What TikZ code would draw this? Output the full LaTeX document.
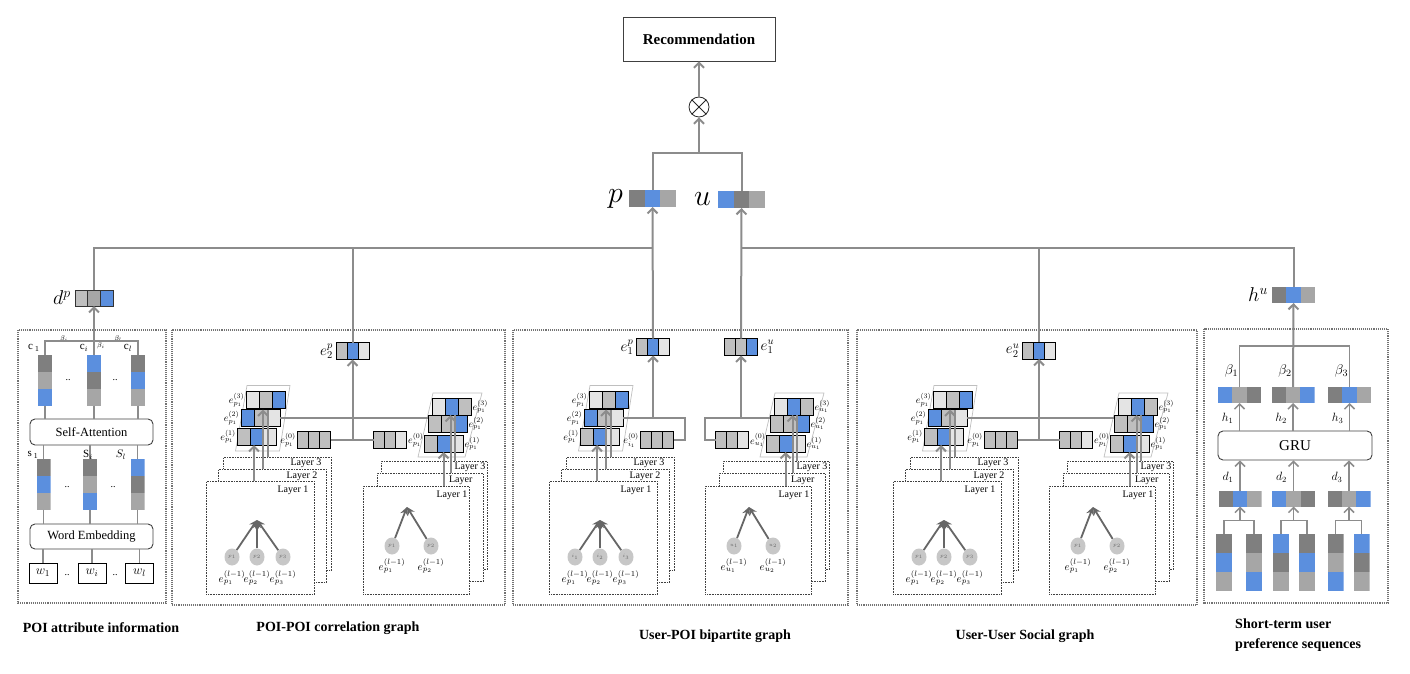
\documentclass[tikz,border=0pt]{standalone}
\usepackage{fix-cm}
\usepackage{fontspec}
\setmainfont{Liberation Serif}
\usetikzlibrary{arrows.meta,calc,positioning,shapes.geometric}

\definecolor{blu}{HTML}{5B8FDE}
\definecolor{dg}{HTML}{7F7F7F}
\definecolor{mg}{HTML}{A6A6A6}
\definecolor{lg}{HTML}{BFBFBF}
\definecolor{vl}{HTML}{E4E4E4}
\definecolor{wire}{HTML}{8C8C8C}

\newcommand{\pbb}{path picture bounding box}

\tikzset{>/.tip={Straight Barb[length=5pt,width=10pt]},
  conn/.style={draw=wire, line width=2pt},
  wire1/.style={draw=wire, line width=1.5pt},
  treearr/.style={draw=black!60, line width=1.8pt, -{Stealth[length=8pt,width=8pt]}},
  panel/.style={draw=black!55, line width=1.1pt, densely dotted},
  layerbox/.style={draw=black!75, line width=0.6pt, densely dotted, fill=white, minimum width=108pt, minimum height=113pt, inner sep=0pt},
  layerR/.style={layerbox, minimum width=106pt, minimum height=108pt},
  laytext/.style={font=\fontsize{10}{10}\selectfont, inner sep=1pt, anchor=north east},
  poi/.style={ellipse, fill=black!22, text=black!60, minimum width=15pt, minimum height=17pt, inner sep=0pt, font=\fontsize{5}{5}\selectfont},
  skewline/.style={draw=black!25, line width=0.7pt},
  rbox/.style={draw=black!75, line width=0.9pt, rounded corners=5pt, inner sep=0pt},
  wbox/.style={draw=black, line width=0.8pt, minimum width=28pt, minimum height=20pt, inner sep=0pt, font=\fontsize{13}{13}\selectfont},
  % a vector of three cells, side by side
  cells/.style n args={4}{inner sep=0pt, outer sep=0pt, path picture={
    \fill[#1] (\pbb.south west) rectangle ($(\pbb.north west)!1/3!(\pbb.north east)$);
    \fill[#2] ($(\pbb.south west)!1/3!(\pbb.south east)$) rectangle ($(\pbb.north west)!2/3!(\pbb.north east)$);
    \fill[#3] ($(\pbb.south west)!2/3!(\pbb.south east)$) rectangle (\pbb.north east);
    \draw[#4] ($(\pbb.south west)!1/3!(\pbb.south east)$) -- ($(\pbb.north west)!1/3!(\pbb.north east)$)
      ($(\pbb.south west)!2/3!(\pbb.south east)$) -- ($(\pbb.north west)!2/3!(\pbb.north east)$);}},
  % a vector of three cells, one above the other
  vcells/.style n args={3}{inner sep=0pt, outer sep=0pt, path picture={
    \fill[#1] (\pbb.north west) rectangle ($(\pbb.north east)!1/3!(\pbb.south east)$);
    \fill[#2] ($(\pbb.north west)!1/3!(\pbb.south west)$) rectangle ($(\pbb.north east)!2/3!(\pbb.south east)$);
    \fill[#3] ($(\pbb.north west)!2/3!(\pbb.south west)$) rectangle (\pbb.south east);}},
  gvec/.style n args={3}{cells={#1}{#2}{#3}{black,line width=0.8pt}, draw=black, line width=0.8pt, minimum width=39pt, minimum height=17pt},
  ovec/.style n args={3}{cells={#1}{#2}{#3}{black,line width=0.8pt}, draw=black, line width=0.8pt, minimum width=33pt, minimum height=17pt},
  bvec/.style n args={3}{cells={#1}{#2}{#3}{draw=none}, minimum width=47pt, minimum height=17pt},
  svec/.style n args={3}{cells={#1}{#2}{#3}{draw=none}, minimum width=43pt, minimum height=16pt},
  cvec/.style n args={3}{vcells={#1}{#2}{#3}, minimum width=14pt, minimum height=51pt},
  colvec/.style n args={3}{vcells={#1}{#2}{#3}, minimum width=16pt, minimum height=57pt},
  sml/.style={font=\fontsize{10}{10}\selectfont, inner sep=0.5pt},
  elbl/.style={font=\fontsize{11}{11}\selectfont, inner sep=0pt},
  outlbl/.style={font=\fontsize{15}{15}\selectfont, inner sep=1pt},
  biglbl/.style={font=\fontsize{20}{20}\selectfont, inner sep=1pt},
  stlbl/.style={font=\fontsize{12}{12}\selectfont, inner sep=0pt},
  clbl/.style={font=\fontsize{11}{11}\selectfont, inner sep=0pt},
  blbl/.style={font=\fontsize{7}{7}\selectfont, inner sep=0pt},
  dots/.style={font=\fontsize{10}{10}\selectfont, inner sep=0pt},
  title/.style={font=\bfseries\fontsize{14}{20}\selectfont, inner sep=0pt}}

% left half of a graph panel: layers, tree, embedding stack
\newcommand{\graphL}[5]{%
  \begin{scope}[shift={(#2)}]
    \node[layerbox, anchor=north west] (#1L3) at (17,-24) {};
    \node[laytext] at ([xshift=-9pt,yshift=-1pt]#1L3.north east) {Layer 3};
    \node[layerbox, anchor=north west] (#1L2) at (12,-12) {};
    \node[laytext] at ([xshift=-8pt,yshift=-2pt]#1L2.north east) {Layer 2};
    \node[layerbox, anchor=north west] (#1L1) at (0,0) {};
    \node[laytext] at ([xshift=-5pt,yshift=-4pt]#1L1.north east) {Layer 1};
    \coordinate (#1apex) at (51,39);
    \foreach \i/\x in {1/26,2/51,3/77} {
      \node[poi] (#1n\i) at (\x,76) {$#3_{\i}$};
      \node[elbl] at (\x,97) {$e^{(l-1)}_{#4_{\i}}$};
      \draw[treearr] (#1n\i) -- (#1apex);
    }
    \draw[skewline] (29.5,-30) -- (73.5,-30) -- (84,-95.5) -- (41,-95.5) -- cycle;
    \node[gvec={lg}{blu}{vl}] (#1e1) at (51,-44.5) {};
    \node[gvec={blu}{lg}{vl}] (#1e2) at (54.5,-63) {};
    \node[gvec={vl}{lg}{blu}] (#1e3) at (59.5,-81) {};
    \foreach \k in {1,2,3} \node[sml, left=1pt of #1e\k] {$e^{(\k)}_{#4_1}$};
    \node[ovec={lg}{lg}{lg}] (#1e0) at (108,-41) {};
    \node[sml, left=1pt of #1e0] {$e^{(0)}_{#5_1}$};
    \draw[conn,->] ([xshift=-3pt]#1e1.south |- #1L1.north) -- ([xshift=-3pt]#1e1.south);
    \draw[conn,->] ([xshift=6pt]#1e1.south |- #1L2.north) -- ([xshift=6pt]#1e1.south |- #1e2.north);
    \draw[conn] ([xshift=11pt]#1e1.south |- #1L3.north) -- ([xshift=11pt]#1e1.south |- #1e2.north);
  \end{scope}}

% right half of a graph panel
\newcommand{\graphR}[5]{%
  \begin{scope}[shift={(#2)}]
    \node[layerR, anchor=north west] (#1L3) at (18,-25) {};
    \node[laytext] at ([xshift=-1pt,yshift=-1pt]#1L3.north east) {Layer 3};
    \node[layerR, anchor=north west] (#1L2) at (14,-13) {};
    \node[laytext] at ([xshift=-10pt,yshift=-2pt]#1L2.north east) {Layer};
    \node[layerR, anchor=north west] (#1L1) at (0,0) {};
    \node[laytext] at ([xshift=-1pt,yshift=-4pt]#1L1.north east) {Layer 1};
    \coordinate (#1apex) at (44,21);
    \foreach \i/\x in {1/29,2/68} {
      \node[poi] (#1n\i) at (\x,60) {$#3_{\i}$};
      \node[elbl] at (\x,80) {$e^{(l-1)}_{#4_{\i}}$};
      \draw[treearr] (#1n\i) -- (#1apex);
    }
    \draw[skewline] (55,-29) -- (102,-29) -- (119,-93) -- (70,-93) -- cycle;
    \node[gvec={lg}{blu}{vl}] (#1e1) at (80.5,-42.5) {};
    \node[gvec={lg}{lg}{blu}] (#1e2) at (84.5,-62.5) {};
    \node[gvec={vl}{blu}{lg}] (#1e3) at (88.5,-79.5) {};
    \foreach \k in {1,2,3} \node[sml, right=1pt of #1e\k] {$e^{(\k)}_{#4_1}$};
    \node[ovec={lg}{lg}{vl}] (#1e0) at (27,-46) {};
    \node[sml, right=1pt of #1e0] {$e^{(0)}_{#5_1}$};
    \draw[conn,->] (#1e1.south |- #1L1.north) -- (#1e1.south);
    \draw[conn,->] ([xshift=7pt]#1e1.south |- #1L2.north) -- ([xshift=7pt]#1e1.south |- #1e2.north);
    \draw[conn] ([xshift=11pt]#1e1.south |- #1L3.north) -- ([xshift=11pt]#1e1.south |- #1e2.north);
  \end{scope}}

\begin{document}
\begin{tikzpicture}[x=1pt,y=-1pt]
\useasboundingbox (0,0) rectangle (1410,674);

% recommendation
\node[draw=black!75, line width=0.8pt, minimum width=152pt, minimum height=44pt, font=\bfseries\fontsize{15}{15}\selectfont] (rec) at (699,39) {Recommendation};
\node[draw=black!85, line width=0.8pt, circle, minimum size=20pt, inner sep=0pt] (ot) at (699,107) {};
\draw[black!85, line width=0.8pt] (ot.north west) -- (ot.south east) (ot.north east) -- (ot.south west);
\node[bvec={dg}{blu}{mg}] (p) at (652.5,198.5) {};
\node[bvec={blu}{dg}{mg}] (u) at (741.5,199.5) {};
\node[left=6pt of p, font=\fontsize{30}{30}\selectfont, inner sep=0pt] {$p$};
\node[left=7pt of u, font=\fontsize{30}{30}\selectfont, inner sep=0pt] {$u$};
\coordinate (top) at (699,153);
\draw[conn] (p.north) |- (top) -| (u.north);
\draw[conn,->] (top) -- (ot);
\draw[conn,->] (ot) -- (rec);

% POI attribute information
\draw[panel] (18,330) rectangle (166,603);
\node[cvec={dg}{mg}{blu}] (c1) at (45,380) {};
\node[cvec={blu}{dg}{mg}] (ci) at (94,380) {};
\node[cvec={dg}{blu}{mg}] (cl) at (138,380) {};
\node[rbox, minimum width=123pt, minimum height=26pt, font=\fontsize{12.5}{13}\selectfont] (sa) at (91.5,432) {Self-Attention};
\node[cvec={dg}{blu}{mg}] (s1) at (43.5,484) {};
\node[cvec={dg}{mg}{blu}] (si) at (90,484) {};
\node[cvec={blu}{dg}{mg}] (sl) at (137.5,484) {};
\node[rbox, minimum width=123pt, minimum height=25pt, font=\fontsize{12.5}{13}\selectfont] (we) at (91.5,536.5) {Word Embedding};
\node[wbox] (w1) at (43,573) {$w_1$};
\node[wbox] (wi) at (92,573) {$w_i$};
\node[wbox] (wl) at (139.5,573) {$w_l$};
\foreach \n in {c1,ci,cl} \draw[wire1] (\n.south) -- (\n.south |- sa.north);
\foreach \n in {s1,si,sl} {
  \draw[wire1] (\n.north) -- (\n.north |- sa.south);
  \draw[wire1] (\n.south) -- (\n.south |- we.north);
}
\foreach \n in {w1,wi,wl} \draw[wire1] (\n.north) -- (\n.north |- we.south);
\node[dots] at (68,380) {..};
\node[dots] at (115,380) {..};
\node[dots] at (67,487) {..};
\node[dots] at (113,487) {..};
\node[dots] at (67,575) {..};
\node[dots] at (115,575) {..};
\node[clbl] at (34,348) {c\,$_{1}$};
\node[clbl] at (84,348) {c$_{i}$};
\node[clbl] at (128,348) {c$_{l}$};
\node[blbl] at (64,339) {$\beta_i$};
\node[blbl] at (101,346) {$\beta_i$};
\node[blbl] at (118,339) {$\beta_l$};
\node[clbl] at (33,455) {s\,$_{1}$};
\node[clbl] at (88,455) {S$_{i}$};
\node[clbl] at (121,455) {$S_l$};
\node[cells={lg}{mg}{blu}{black!80,line width=0.6pt}, draw=black!80, line width=0.6pt, minimum width=38pt, minimum height=16pt] (dp) at (94,298) {};
\node[biglbl, left=3pt of dp] {$d^{p}$};
\coordinate (dpj) at (94,341);
\draw[wire1] (c1.north) |- (dpj) -| (cl.north);
\draw[wire1] (ci.north) -- (dpj);
\draw[conn,->] (dpj) -- (dp.south);

% POI-POI correlation graph
\draw[panel] (172,330) rectangle (505,605);
\graphL{corA}{206,481}{p}{p}{p}
\graphR{corB}{363,486}{p}{p}{p}
\node[ovec={lg}{blu}{vl}] (e2p) at (352.5,351) {};
\node[outlbl, left=2pt of e2p] {$e^{p}_{2}$};
\draw[conn] (corAe2.east) -- (corAe2.east -| corBe2.west);
\draw[conn] (corAe0.east) -- (corBe0.west);
\draw[conn,->] (e2p.south |- corAe0.east) -- (e2p.south);

% User-POI bipartite graph
\draw[panel] (513,330) rectangle (848,605);
\graphL{bipA}{549,481}{i}{p}{i}
\graphR{bipB}{705,486}{u}{u}{u}
\node[ovec={lg}{blu}{vl}] (e1p) at (653,347) {};
\node[outlbl, left=2pt of e1p] {$e^{p}_{1}$};
\node[ovec={lg}{lg}{blu}] (e1u) at (741,347) {};
\node[outlbl, right=2pt of e1u] {$e^{u}_{1}$};
\draw[conn] (bipAe0.east) -- ++(11,0) |- (bipAe2.east);
\draw[conn] (bipBe0.west) -- ++(-11,0) |- (bipBe2.west |- bipAe2.east);
\draw[conn,->] (e1p.south |- bipAe2.east) -- (e1p.south);
\draw[conn,->] (e1u.south |- bipAe2.east) -- (e1u.south);

% User-User social graph
\draw[panel] (857,330) rectangle (1197,605);
\graphL{socA}{893,481}{p}{p}{p}
\graphR{socB}{1049,486}{p}{p}{p}
\node[ovec={lg}{blu}{vl}] (e2u) at (1039,350.5) {};
\node[outlbl, left=2pt of e2u] {$e^{u}_{2}$};
\draw[conn] (socAe2.east) -- (socAe2.east -| socBe2.west);
\draw[conn] (socAe0.east) -- (socBe0.west);
\draw[conn,->] (e2u.south |- socAe0.east) -- (e2u.south);

% Short-term user preference sequences
\draw[panel] (1204,329) rectangle (1388,603);
\node[colvec={dg}{blu}{mg}] (a1) at (1224,562.5) {};
\node[colvec={dg}{mg}{blu}] (b1) at (1254,562.5) {};
\node[colvec={blu}{dg}{mg}] (a2) at (1281,562.5) {};
\node[colvec={dg}{blu}{mg}] (b2) at (1307,562.5) {};
\node[colvec={dg}{mg}{blu}] (a3) at (1335.5,562.5) {};
\node[colvec={blu}{dg}{mg}] (b3) at (1361.5,562.5) {};
\node[svec={dg}{blu}{mg}] (d1) at (1240,498.5) {};
\node[svec={blu}{mg}{dg}] (d2) at (1293.5,498.5) {};
\node[svec={dg}{mg}{blu}] (d3) at (1349,498.5) {};
\node[rbox, minimum width=154pt, minimum height=29pt, font=\fontsize{15}{15}\selectfont] (gru) at (1295,445.5) {GRU};
\node[svec={blu}{mg}{dg}] (h1) at (1239.5,395) {};
\node[svec={dg}{mg}{blu}] (h2) at (1293,395) {};
\node[svec={dg}{blu}{mg}] (h3) at (1349.5,395) {};
\node[svec={dg}{blu}{mg}] (hu) at (1293.5,295) {};
\node[biglbl, left=3pt of hu] {$h^{u}$};
\foreach \i in {1,2,3} {
  \draw[wire1] (a\i.north) |- ([yshift=-14pt]d\i.south) -| (b\i.north);
  \draw[wire1,->] ([yshift=-14pt]d\i.south) -- (d\i.south);
  \draw[wire1,->] (d\i.north) -- (d\i.north |- gru.south);
  \draw[wire1,->] (h\i.south |- gru.north) -- (h\i.south);
  \node[stlbl] at ([xshift=-12pt,yshift=13pt]d\i.north) {$d_{\i}$};
  \node[stlbl] at ([xshift=-12pt,yshift=-15pt]h\i.south) {$h_{\i}$};
  \node[stlbl, font=\fontsize{14}{14}\selectfont] at ([xshift=-8pt,yshift=16pt]h\i.north) {$\beta_{\i}$};
}
\coordinate (huj) at (1293,346);
\draw[wire1] (h1.north) |- (huj) -| (h3.north);
\draw[conn,->] (h2.north) -- (hu.south);

% joining into p and u
\coordinate (pj) at (653,248);
\coordinate (uj) at (741,248);
\draw[conn] (dp.north) |- (pj);
\draw[conn] (e2p.north) -- (e2p.north |- pj);
\draw[conn,->] (e1p.north) -- (p.south);
\draw[conn] (hu.north) |- (uj);
\draw[conn] (e2u.north) -- (e2u.north |- uj);
\draw[conn,->] (e1u.north) -- (u.south);

% panel titles
\node[title] at (101,628) {POI attribute information};
\node[title] at (338,628) {POI-POI correlation graph};
\node[title] at (715,636) {User-POI bipartite graph};
\node[title] at (1025,636) {User-User Social graph};
\node[title, align=left, anchor=north west] at (1235,619) {Short-term user\\preference sequences};
\end{tikzpicture}
\end{document}
